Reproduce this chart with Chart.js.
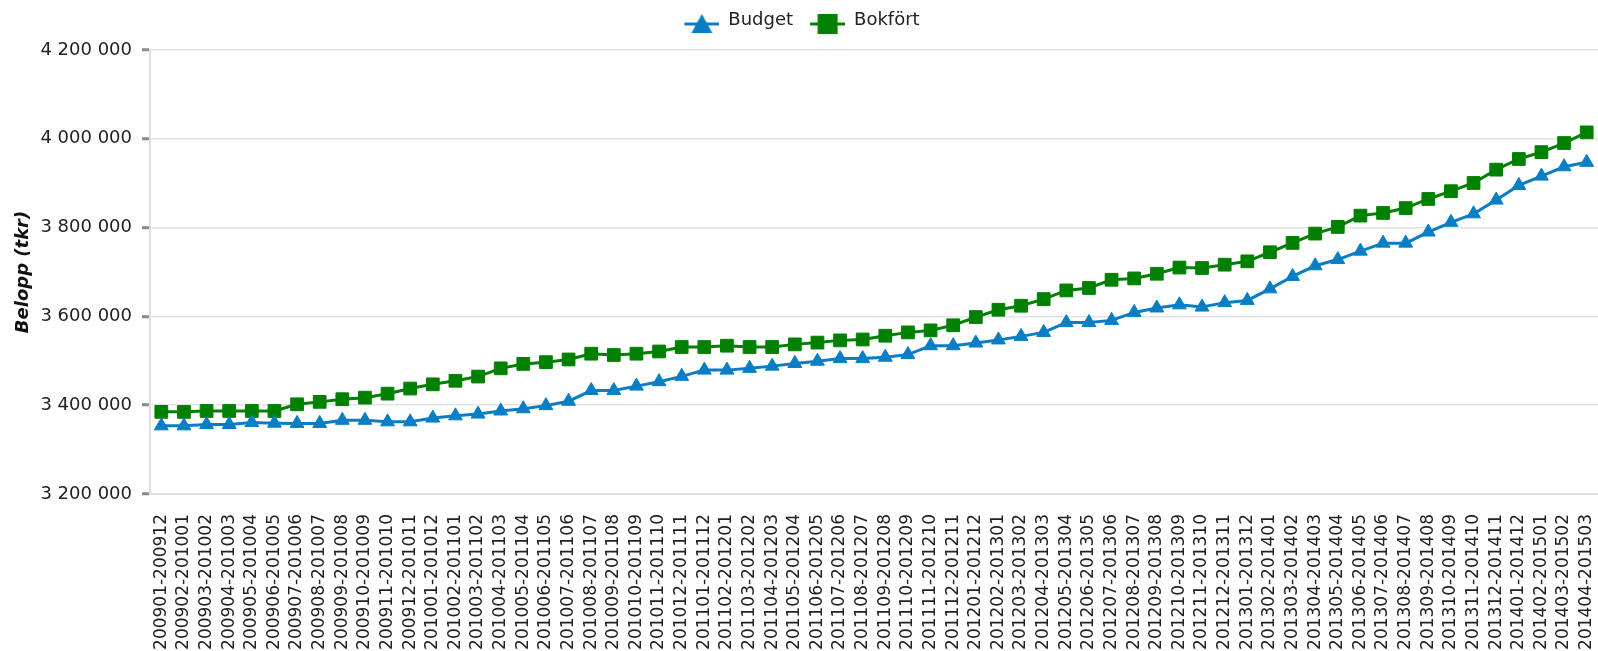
<!DOCTYPE html>
<html>
<head>
<meta charset="utf-8">
<script src="https://cdn.jsdelivr.net/npm/chart.js@4/dist/chart.umd.min.js"></script>
<style>
  html, body { margin: 0; padding: 0; background: #ffffff; }
  #wrap { width: 1598px; height: 651px; }
</style>
</head>
<body>
<div id="wrap"><canvas id="c" width="1598" height="651"></canvas></div>
<script>
const categories = [
  "200901-200912","200902-201001","200903-201002","200904-201003","200905-201004","200906-201005",
  "200907-201006","200908-201007","200909-201008","200910-201009","200911-201010","200912-201011",
  "201001-201012","201002-201101","201003-201102","201004-201103","201005-201104","201006-201105",
  "201007-201106","201008-201107","201009-201108","201010-201109","201011-201110","201012-201111",
  "201101-201112","201102-201201","201103-201202","201104-201203","201105-201204","201106-201205",
  "201107-201206","201108-201207","201109-201208","201110-201209","201111-201210","201112-201211",
  "201201-201212","201202-201301","201203-201302","201204-201303","201205-201304","201206-201305",
  "201207-201306","201208-201307","201209-201308","201210-201309","201211-201310","201212-201311",
  "201301-201312","201302-201401","201303-201402","201304-201403","201305-201404","201306-201405",
  "201307-201406","201308-201407","201309-201408","201310-201409","201311-201410","201312-201411",
  "201401-201412","201402-201501","201403-201502","201404-201503"
];

const budget = [
  3353500, 3353500, 3356500, 3356500, 3361000, 3359500, 3359000, 3359000, 3366000, 3366000,
  3362500, 3362500, 3371000, 3376000, 3380000, 3387000, 3392000, 3399000, 3409000, 3433000,
  3433000, 3443000, 3453000, 3465000, 3479000, 3479000, 3483000, 3488000, 3494000, 3499000,
  3505000, 3505000, 3508000, 3514000, 3534000, 3534000, 3540000, 3547000, 3555000, 3564000,
  3586000, 3586000, 3591000, 3609000, 3619000, 3626000, 3621000, 3631000, 3636000, 3662000,
  3690000, 3714000, 3728000, 3747000, 3765000, 3765000, 3790000, 3812000, 3831000, 3862000,
  3895000, 3916000, 3937000, 3947000
];

const bokfort = [
  3385000, 3385000, 3387000, 3387000, 3387000, 3387000, 3402000, 3407500, 3413500, 3417000,
  3426000, 3437500, 3447000, 3455000, 3464500, 3483000, 3493000, 3497000, 3503000, 3516000,
  3513000, 3516000, 3521000, 3531000, 3531000, 3534000, 3531000, 3531000, 3537000, 3541000,
  3546000, 3548000, 3556500, 3564000, 3568500, 3580000, 3598500, 3615000, 3624000, 3639000,
  3658500, 3664000, 3682500, 3685500, 3696000, 3710000, 3709000, 3716500, 3724000, 3744500,
  3765500, 3786500, 3801500, 3827000, 3833000, 3844000, 3864500, 3882000, 3900500, 3930500,
  3954500, 3970000, 3990500, 4014500
];

const seriesNames = ["Budget", "Bokfört"];
const yTickValues = [3200000, 3400000, 3600000, 3800000, 4000000, 4200000];
const yTitle = "Belopp (tkr)";

const BLUE = "#0a7ec4";
const GREEN = "#008000";
const FONT = "'DejaVu Sans', Verdana, sans-serif";

function makeSymbol(kind, color) {
  const c = document.createElement('canvas');
  c.width = 41; c.height = 30;
  const g = c.getContext('2d');
  const cy = 19;
  g.strokeStyle = color; g.lineWidth = 3;
  g.beginPath(); g.moveTo(6, cy); g.lineTo(41, cy); g.stroke();
  g.fillStyle = color;
  if (kind === 'rect') {
    g.fillRect(13.5, cy - 10, 20, 20);
  } else {
    g.beginPath(); g.moveTo(23.5, cy - 10); g.lineTo(34, cy + 9); g.lineTo(13, cy + 9); g.closePath(); g.fill();
  }
  return c;
}
const legendSymbols = [makeSymbol('triangle', BLUE), makeSymbol('rect', GREEN)];

function fmt(v) {
  return String(Math.round(v)).replace(/\B(?=(\d{3})+(?!\d))/g, ' ');
}

const legendMargin = {
  id: 'legendMargin',
  beforeInit(chart) {
    const fit = chart.legend.fit;
    chart.legend.fit = function () {
      fit.bind(chart.legend)();
      this.height += 11;
    };
  }
};

new Chart(document.getElementById('c'), {
  type: 'line',
  data: {
    labels: categories,
    datasets: [
      {
        label: seriesNames[0],
        data: budget,
        borderColor: BLUE,
        backgroundColor: BLUE,
        borderWidth: 3,
        pointStyle: 'triangle',
        pointRadius: 8,
        pointBorderWidth: 1,
        pointBorderColor: BLUE,
        pointBackgroundColor: BLUE,
        tension: 0,
        fill: false,
        clip: false
      },
      {
        label: seriesNames[1],
        data: bokfort,
        borderColor: GREEN,
        backgroundColor: GREEN,
        borderWidth: 3,
        pointStyle: 'rect',
        pointRadius: 9,
        pointBorderWidth: 1,
        pointBorderColor: GREEN,
        pointBackgroundColor: GREEN,
        tension: 0,
        fill: false,
        clip: false
      }
    ]
  },
  options: {
    responsive: false,
    animation: false,
    layout: { autoPadding: false, padding: { left: 0, right: 0, top: 0, bottom: 0 } },
    plugins: {
      tooltip: { enabled: false },
      legend: {
        display: true,
        position: 'top',
        align: 'center',
        labels: {
          usePointStyle: true,
          pointStyleWidth: 41,
          padding: 11,
          color: '#222',
          font: { family: FONT, size: 18 },
          generateLabels(chart) {
            const items = Chart.defaults.plugins.legend.labels.generateLabels(chart);
            items.forEach((it, i) => { it.pointStyle = legendSymbols[i]; });
            return items;
          }
        }
      }
    },
    scales: {
      x: {
        type: 'category',
        offset: true,
        grid: { display: false, drawTicks: false },
        border: { display: true, color: '#e0e0e0', width: 2 },
        ticks: {
          autoSkip: false,
          minRotation: 90,
          maxRotation: 90,
          padding: 20,
          color: '#222',
          font: { family: FONT, size: 17 }
        },
        afterFit(scale) {
          scale.height = 157;
          scale.paddingLeft = 0;
          scale.paddingRight = 0;
        }
      },
      y: {
        min: yTickValues[0],
        max: yTickValues[yTickValues.length - 1],
        afterBuildTicks(scale) { scale.ticks = yTickValues.map(v => ({ value: v })); },
        grid: {
          color: '#e3e3e3',
          lineWidth: 1.5,
          drawTicks: true,
          tickLength: 8,
          tickWidth: 3,
          tickColor: '#8a8a8a'
        },
        border: { display: true, color: '#e0e0e0', width: 2 },
        ticks: {
          padding: 10,
          color: '#222',
          font: { family: FONT, size: 18 },
          callback: (v) => fmt(v)
        },
        title: {
          display: true,
          text: yTitle,
          color: '#111',
          font: { family: FONT, size: 18, weight: 'bold', style: 'italic' },
          padding: { top: 13, bottom: 0 }
        },
        afterFit(scale) { scale.width = 150; }
      }
    }
  },
  plugins: [legendMargin]
});
</script>
</body>
</html>
